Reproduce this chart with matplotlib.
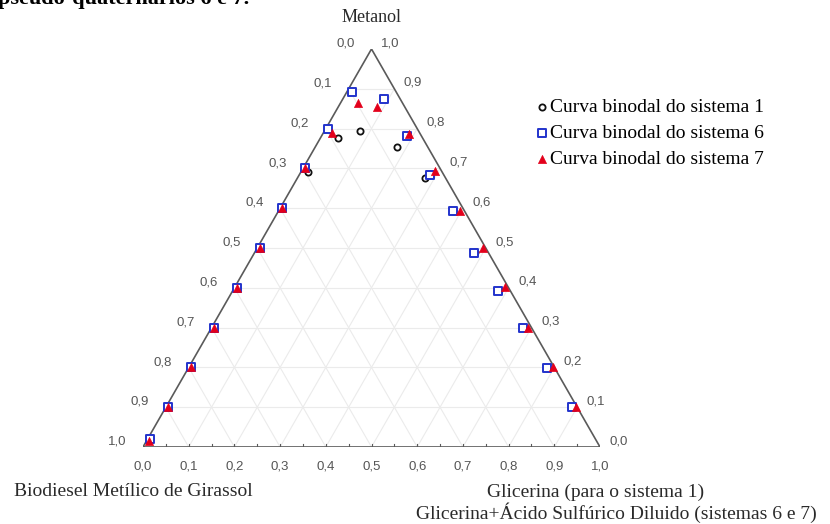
import numpy as np
import matplotlib
matplotlib.use("Agg")
import matplotlib.pyplot as plt

# mass fractions: glicerina (bottom axis) and metanol (right axis);
# biodiesel is whatever is left, 1 - glic - met
sys1_glic = [0.005, 0.005, 0.005, 0.005, 0.005, 0.005, 0.005, 0.015, 0.039, 0.078,
             0.179, 0.279, 0.383, 0.482, 0.583, 0.684, 0.786, 0.889]
sys1_met = [0.02, 0.10, 0.20, 0.30, 0.40, 0.50, 0.60, 0.692, 0.776, 0.794,
            0.753, 0.676, 0.592, 0.489, 0.394, 0.298, 0.198, 0.101]

sys6_glic = [0.005, 0.005, 0.005, 0.005, 0.005, 0.005, 0.005, 0.005, 0.005, 0.01,
             0.09, 0.188, 0.287, 0.381, 0.480, 0.581, 0.682, 0.784, 0.888]
sys6_met = [0.02, 0.10, 0.20, 0.30, 0.40, 0.50, 0.60, 0.70, 0.80, 0.893,
            0.874, 0.781, 0.683, 0.594, 0.488, 0.393, 0.298, 0.198, 0.101]

sys7_glic = [0.005, 0.005, 0.005, 0.005, 0.005, 0.005, 0.005, 0.005, 0.019, 0.038,
             0.084, 0.189, 0.292, 0.397, 0.494, 0.591, 0.694, 0.798, 0.898]
sys7_met = [0.015, 0.10, 0.20, 0.30, 0.40, 0.50, 0.60, 0.70, 0.789, 0.864,
            0.854, 0.786, 0.694, 0.594, 0.499, 0.403, 0.298, 0.200, 0.101]

legend_labels = ["Curva binodal do sistema 1",
                 "Curva binodal do sistema 6",
                 "Curva binodal do sistema 7"]
tick_vals = [round(0.1 * i, 1) for i in range(11)]

H = np.sqrt(3) / 2
W_PX, H_PX = 830, 524


def to_xy(glic, met):
    glic = np.asarray(glic, dtype=float)
    met = np.asarray(met, dtype=float)
    return glic + met / 2, met * H


def fpos(x, y):
    # pixel position -> figure fraction
    return x / W_PX, 1 - y / H_PX


def fmt(v):
    return f"{v:.1f}".replace(".", ",")


fig = plt.figure(figsize=(8.3, 5.24), dpi=100)
ax = fig.add_axes([143 / W_PX, 77 / H_PX, 457 / W_PX, 398 / H_PX])
ax.set_xlim(0, 1)
ax.set_ylim(0, H)
ax.axis("off")

# faint grid every 0.1 in the three directions
for v in tick_vals[1:-1]:
    for a, b in [((0, v), (1 - v, v)), ((v, 0), (v, 1 - v)), ((1 - v, 0), (0, 1 - v))]:
        x, y = to_xy([a[0], b[0]], [a[1], b[1]])
        ax.plot(x, y, color="#ebebeb", lw=0.8, zorder=1)

# triangle frame
fx, fy = to_xy([0, 1, 0, 0], [0, 0, 1, 0])
ax.plot(fx, fy, color="#5a5a5a", lw=1.2, zorder=2, solid_joinstyle="miter")

# small ticks every 0.05 along the base
d = 0.006
for t in np.arange(0.05, 1.0, 0.05):
    x, y = to_xy(t, 0)
    ax.plot([x, x], [y - d, y + d], color="#5a5a5a", lw=0.8, zorder=2)

# tick labels
tick_kw = dict(textcoords="offset points", ha="center", va="center",
               fontsize=9.5, color="#555555", family="Liberation Sans",
               annotation_clip=False)
for t in tick_vals:
    ax.annotate(fmt(t), to_xy(t, 0), xytext=(0, -14), **tick_kw)
    ax.annotate(fmt(t), to_xy(0, 1 - t), xytext=(-18.5, 3.8), **tick_kw)
    ax.annotate(fmt(t), to_xy(1 - t, t), xytext=(13.5, 4.3), **tick_kw)

# binodal points
x1, y1 = to_xy(sys1_glic, sys1_met)
x6, y6 = to_xy(sys6_glic, sys6_met)
x7, y7 = to_xy(sys7_glic, sys7_met)
h1 = ax.scatter(x1, y1, s=20, marker="o", facecolor="white", edgecolor="#111111",
                linewidth=1.3, zorder=3, clip_on=False)
h6 = ax.scatter(x6, y6, s=28, marker="s", facecolor="white", edgecolor="#2233cc",
                linewidth=1.4, zorder=4, clip_on=False)
h7 = ax.scatter(x7, y7, s=34, marker="^", facecolor="#e3001b", edgecolor="#e3001b",
                linewidth=0.5, zorder=5, clip_on=False)

serif = "Liberation Serif"
fig.legend([h1, h6, h7], legend_labels, loc="upper left",
           bbox_to_anchor=fpos(524, 89), frameon=False, handletextpad=0.05,
           labelspacing=0.42, borderpad=0, handlelength=0.8,
           prop=dict(family=serif, size=14))

# axis titles
txt = "#2a2a2a"
fig.text(*fpos(372, 17), "Metanol", ha="center", va="center",
         family=serif, fontsize=13, color=txt)
fig.text(*fpos(14, 492), "Biodiesel Metílico de Girassol", ha="left", va="center",
         family=serif, fontsize=14, color=txt)
fig.text(*fpos(596, 492), "Glicerina (para o sistema 1)", ha="center", va="center",
         family=serif, fontsize=14, color=txt)
fig.text(*fpos(616, 513), "Glicerina+Ácido Sulfúrico Diluido (sistemas 6 e 7)",
         ha="center", va="center", family=serif, fontsize=14, color=txt)

# heading line running off the top edge
fig.text(*fpos(-2, 4), "pseudo-quaternários 6 e 7.", ha="left", va="baseline",
         family=serif, fontweight="bold", fontsize=16, color="black")

fig.savefig("out.png", dpi=100, facecolor="white")
